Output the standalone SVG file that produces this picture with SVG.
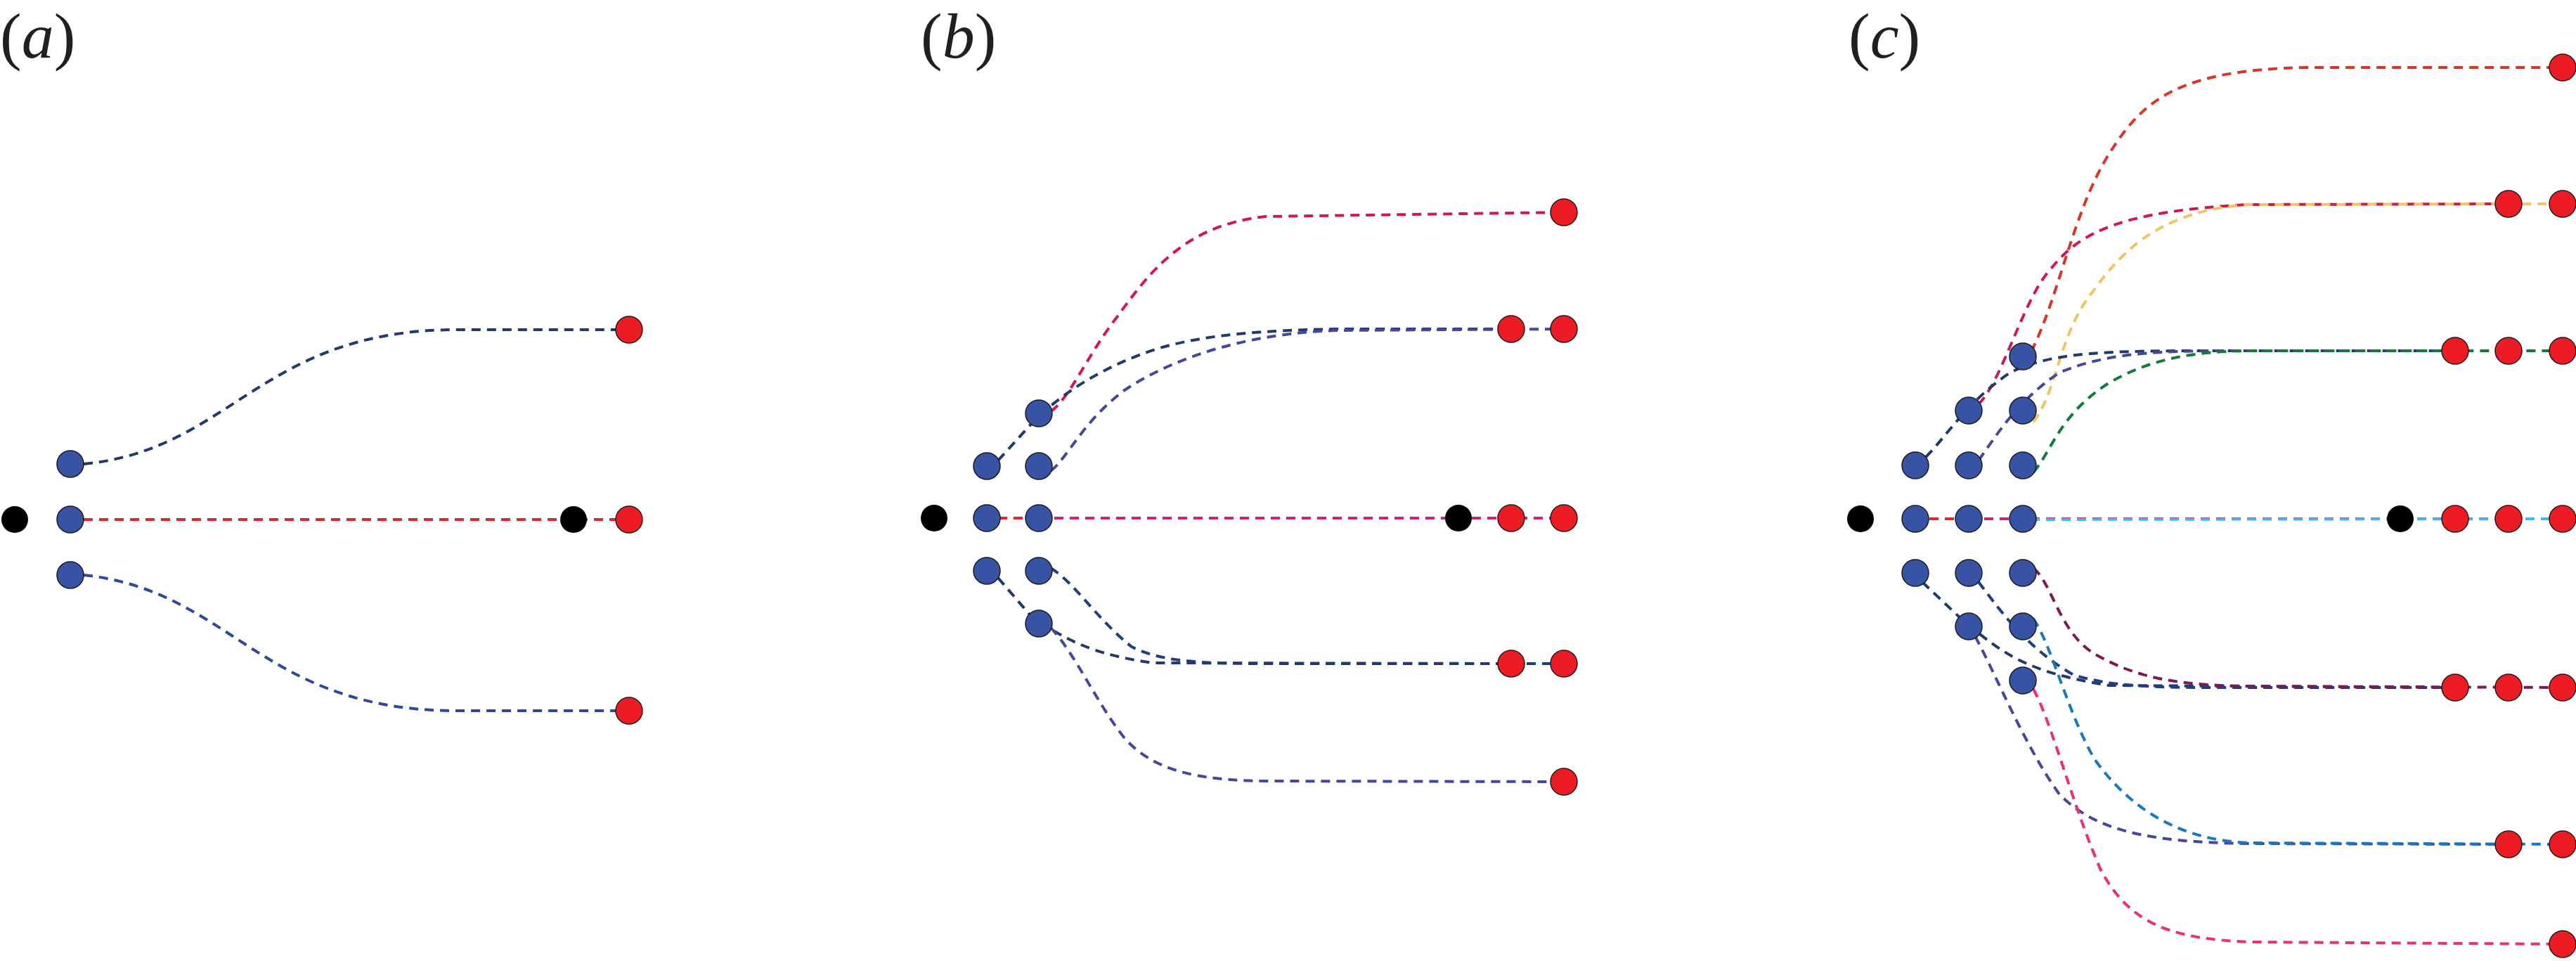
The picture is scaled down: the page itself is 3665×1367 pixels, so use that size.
<svg xmlns="http://www.w3.org/2000/svg" width="3665" height="1367" viewBox="0 0 3665 1367">
<style>
.lbl{font-family:"Liberation Serif",serif;font-size:92px;fill:#231f20}
.c path{fill:none;stroke-width:4;stroke-dasharray:13 9}
.b{fill:#3953a4;stroke:#1a1a1a;stroke-width:1.5}
.r{fill:#ed1c24;stroke:#1a1a1a;stroke-width:1.5}
.k{fill:#000}
</style>
<rect width="3665" height="1367" fill="#fff"/>
<text class="lbl" x="0" y="82">(<tspan font-style="italic">a</tspan>)</text>
<text class="lbl" x="1310" y="82">(<tspan font-style="italic">b</tspan>)</text>
<text class="lbl" x="2630" y="82">(<tspan font-style="italic">c</tspan>)</text>
<g id="connectors" class="c">
<path stroke="#22396b" d="M119,660 C330,640 370,469 650,469 L876,469"/>
<path stroke="#e0262f" d="M119,739 L876,739"/>
<path stroke="#30489a" d="M119,818 C330,840 370,1011 650,1011 L876,1011"/>
<path stroke="#d0184f" d="M1495,585 C1520,570 1550,500 1590,450 C1640,380 1690,320 1800,308 L2225,302"/>
<path stroke="#22396b" d="M1420,655 L1470,600 C1510,560 1570,520 1650,495 C1720,475 1800,470 1900,468 L2150,468"/>
<path stroke="#44479a" d="M1495,670 C1520,650 1540,600 1600,555 C1660,515 1760,475 1900,470 L2225,468"/>
<path stroke="#e0262f" d="M1420,737 L1480,737"/>
<path stroke="#c8247a" d="M1478,737 L2225,737"/>
<path stroke="#1f3e80" d="M1495,808 C1530,830 1560,880 1610,920 C1650,940 1700,944 1800,944 L2225,944"/>
<path stroke="#22396b" d="M1420,822 L1470,880 C1520,910 1550,930 1640,943 L2150,944"/>
<path stroke="#44479a" d="M1495,893 C1530,930 1560,1000 1600,1050 C1640,1095 1700,1110 1800,1111 L2225,1112"/>
<path stroke="#d9352a" d="M2890,500 C2930,420 2950,300 3000,220 C3050,140 3100,100 3280,96 L3646,96"/>
<path stroke="#d0184f" d="M2815,575 C2850,540 2880,420 2920,380 C2960,330 3020,300 3200,291 L3569,290"/>
<path stroke="#f0c464" d="M2893,600 C2925,560 2930,480 2970,425 C3010,370 3060,300 3200,291 L3646,290"/>
<path stroke="#22396b" d="M2740,650 C2770,620 2800,570 2860,530 C2920,500 3000,499 3150,499 L3493,499"/>
<path stroke="#44479a" d="M2815,655 C2840,620 2870,570 2930,530 C2990,505 3050,500 3150,499 L3493,499"/>
<path stroke="#137a3c" d="M2893,672 C2920,640 2930,590 3000,545 C3060,510 3120,500 3200,499 L3646,499"/>
<path stroke="#e0262f" d="M2745,738 L2801,738"/>
<path stroke="#c8247a" d="M2801,738 L3646,738"/>
<path stroke="#3cbbe9" stroke-dashoffset="11" d="M2878,739 L3646,738"/>
<path stroke="#22396b" d="M2735,828 L2790,880 C2850,930 2880,955 3000,975 L3493,978"/>
<path stroke="#1f3e80" d="M2815,828 C2840,860 2880,920 2950,960 C3000,975 3050,978 3150,978 L3493,978"/>
<path stroke="#7a1a50" d="M2893,808 C2920,830 2930,900 2980,930 C3040,965 3100,975 3200,976 L3646,978"/>
<path stroke="#44479a" d="M2810,905 C2840,960 2880,1060 2930,1130 C2980,1180 3050,1198 3200,1200 L3569,1201"/>
<path stroke="#1878bf" d="M2893,880 C2920,920 2940,1010 2980,1080 C3030,1150 3100,1195 3200,1199 L3646,1201"/>
<path stroke="#ec2f74" d="M2893,980 C2920,1030 2950,1150 2990,1240 C3030,1310 3080,1335 3200,1340 L3646,1343"/>
</g>
<g id="panel-a">
<circle id="a-k0" class="k" cx="21" cy="739" r="19"/>
<circle id="a-b1" class="b" cx="100" cy="660" r="19"/>
<circle id="a-b2" class="b" cx="100" cy="739" r="19"/>
<circle id="a-b3" class="b" cx="100" cy="818" r="19"/>
<circle id="a-k1" class="k" cx="816" cy="739" r="19"/>
<circle id="a-r1" class="r" cx="895" cy="469" r="19"/>
<circle id="a-r2" class="r" cx="895" cy="739" r="19"/>
<circle id="a-r3" class="r" cx="895" cy="1011" r="19"/>
</g>
<g id="panel-b">
<circle class="k" cx="1329" cy="737" r="19"/>
<circle class="b" cx="1404" cy="663" r="19"/>
<circle class="b" cx="1404" cy="737" r="19"/>
<circle class="b" cx="1404" cy="812" r="19"/>
<circle class="b" cx="1478" cy="588" r="19"/>
<circle class="b" cx="1478" cy="663" r="19"/>
<circle class="b" cx="1478" cy="737" r="19"/>
<circle class="b" cx="1478" cy="812" r="19"/>
<circle class="b" cx="1478" cy="887" r="19"/>
<circle class="k" cx="2075" cy="737" r="19"/>
<circle class="r" cx="2225" cy="302" r="19"/>
<circle class="r" cx="2150" cy="468" r="19"/>
<circle class="r" cx="2225" cy="468" r="19"/>
<circle class="r" cx="2150" cy="737" r="19"/>
<circle class="r" cx="2225" cy="737" r="19"/>
<circle class="r" cx="2150" cy="944" r="19"/>
<circle class="r" cx="2225" cy="944" r="19"/>
<circle class="r" cx="2225" cy="1112" r="19"/>
</g>
<g id="panel-c">
<circle class="k" cx="2647" cy="738" r="19"/>
<circle class="b" cx="2725" cy="662" r="19"/>
<circle class="b" cx="2725" cy="738" r="19"/>
<circle class="b" cx="2725" cy="815" r="19"/>
<circle class="b" cx="2801" cy="584" r="19"/>
<circle class="b" cx="2801" cy="662" r="19"/>
<circle class="b" cx="2801" cy="738" r="19"/>
<circle class="b" cx="2801" cy="815" r="19"/>
<circle class="b" cx="2801" cy="891" r="19"/>
<circle class="b" cx="2878" cy="507" r="19"/>
<circle class="b" cx="2878" cy="584" r="19"/>
<circle class="b" cx="2878" cy="662" r="19"/>
<circle class="b" cx="2878" cy="738" r="19"/>
<circle class="b" cx="2878" cy="815" r="19"/>
<circle class="b" cx="2878" cy="891" r="19"/>
<circle class="b" cx="2878" cy="968" r="19"/>
<circle class="k" cx="3415" cy="738" r="19"/>
<circle class="r" cx="3646" cy="96" r="19"/>
<circle class="r" cx="3569" cy="290" r="19"/>
<circle class="r" cx="3646" cy="290" r="19"/>
<circle class="r" cx="3493" cy="499" r="19"/>
<circle class="r" cx="3569" cy="499" r="19"/>
<circle class="r" cx="3646" cy="499" r="19"/>
<circle class="r" cx="3493" cy="738" r="19"/>
<circle class="r" cx="3569" cy="738" r="19"/>
<circle class="r" cx="3646" cy="738" r="19"/>
<circle class="r" cx="3493" cy="978" r="19"/>
<circle class="r" cx="3569" cy="978" r="19"/>
<circle class="r" cx="3646" cy="978" r="19"/>
<circle class="r" cx="3569" cy="1201" r="19"/>
<circle class="r" cx="3646" cy="1201" r="19"/>
<circle class="r" cx="3646" cy="1343" r="19"/>
</g>
</svg>
